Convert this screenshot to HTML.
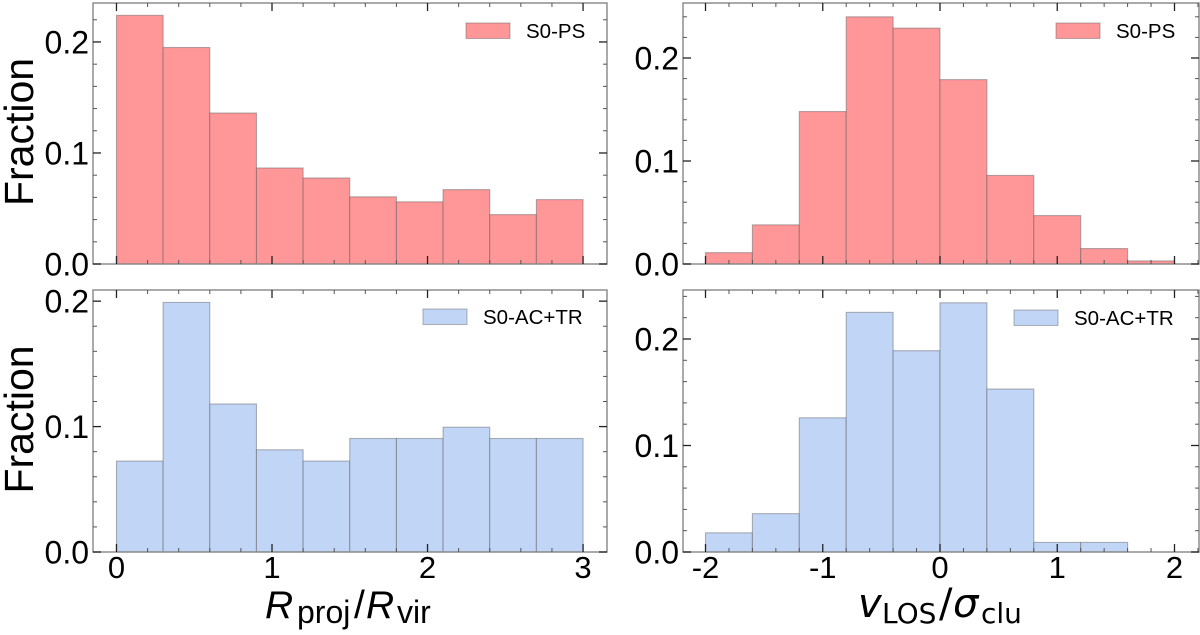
<!DOCTYPE html>
<html>
<head>
<meta charset="utf-8">
<title>Histograms</title>
<style>
html,body{margin:0;padding:0;background:#fff;width:1200px;height:635px;overflow:hidden}
svg{display:block}
text{font-family:"Liberation Sans",sans-serif;fill:#000}
</style>
</head>
<body>
<svg id="figure" width="1200" height="635" viewBox="0 0 1200 635" xmlns="http://www.w3.org/2000/svg">
<text transform="translate(33,132) rotate(-90)" text-anchor="middle" font-size="41">Fraction</text>
<text transform="translate(33,419.5) rotate(-90)" text-anchor="middle" font-size="41">Fraction</text>
<text y="618" font-size="39"><tspan x="265" font-style="italic">R</tspan><tspan x="297" y="623" font-size="32">proj</tspan><tspan x="354" y="618">/</tspan><tspan x="366" font-style="italic">R</tspan><tspan x="397" y="623" font-size="32">vir</tspan></text>
<text y="617" font-size="40" style="font-family:'DejaVu Sans',sans-serif"><tspan x="858" font-style="italic">v</tspan><tspan x="882" y="623" font-size="28">LOS</tspan><tspan x="939" y="617">/</tspan><tspan x="953" font-style="italic">σ</tspan><tspan x="981" y="623" font-size="28">clu</tspan></text>
</svg>
<script>
const radiusBinEdges = [0, 0.3, 0.6, 0.9, 1.2, 1.5, 1.8, 2.1, 2.4, 2.7, 3.0];
const velocityBinEdges = [-2, -1.6, -1.2, -0.8, -0.4, 0, 0.4, 0.8, 1.2, 1.6, 2];
const psRadiusValues = [0.224, 0.195, 0.136, 0.0865, 0.0775, 0.0605, 0.056, 0.067, 0.0445, 0.058];
const acRadiusValues = [0.0725, 0.199, 0.118, 0.0815, 0.0725, 0.0905, 0.0905, 0.0995, 0.0905, 0.0905];
const psVelocityValues = [0.011, 0.038, 0.148, 0.24, 0.229, 0.179, 0.086, 0.047, 0.015, 0.003];
const acVelocityValues = [0.018, 0.036, 0.126, 0.225, 0.189, 0.234, 0.153, 0.009, 0.009, 0];
const radiusTickLabels = ["0", "1", "2", "3"];
const velocityTickLabels = ["-2", "-1", "0", "1", "2"];
const fractionTickLabels = ["0.0", "0.1", "0.2"];

const NS = "http://www.w3.org/2000/svg";
const svg = document.getElementById("figure");

function make(tag, attrs, parent) {
  const el = document.createElementNS(NS, tag);
  for (const k in attrs) el.setAttribute(k, attrs[k]);
  parent.appendChild(el);
  return el;
}

function drawPanel(p) {
  const g = make("g", {}, svg);
  
  
  const sx = v => p.left + (v - p.xMin) / (p.xMax - p.xMin) * (p.right - p.left);
  const sy = v => p.bottom - (v - 0) / p.yMax * (p.bottom - p.top);

  p.values.forEach((v, i) => {
    if (v <= 0) return;
    const x0 = sx(p.edges[i]), x1 = sx(p.edges[i + 1]), y = sy(v);
    const bar = make("rect", {x: x0, y: y, width: x1 - x0, height: sy(0) - y, fill: p.fill, stroke: "rgba(90,90,90,0.45)", "stroke-width": 1.1}, g);
    
    
  });

  const frame = make("rect", {x: p.left, y: p.top, width: p.right - p.left, height: p.bottom - p.top, fill: "none", stroke: "#858585", "stroke-width": 1.4}, g);
  
  

  const tick = (x1, y1, x2, y2, w, c) => {
    const t = make("line", {x1, y1, x2, y2, stroke: c, "stroke-width": w}, g);
    
    
  };

  // x ticks: major every 1, minor every 0.2
  for (let n = Math.ceil(p.xMin * 5); n <= Math.floor(p.xMax * 5); n++) {
    const x = sx(n / 5), major = n % 5 === 0, len = major ? 8 : 4, w = major ? 1.3 : 1, c = major ? "#222" : "#555";
    tick(x, p.bottom, x, p.bottom - len, w, c);
    tick(x, p.top, x, p.top + len, w, c);
  }
  // y ticks: major every 0.1, minor every 0.02
  for (let n = 0; n / 50 <= p.yMax; n++) {
    const y = sy(n / 50), major = n % 5 === 0, len = major ? 8 : 4, w = major ? 1.3 : 1, c = major ? "#222" : "#555";
    tick(p.left, y, p.left + len, y, w, c);
    tick(p.right, y, p.right - len, y, w, c);
  }

  fractionTickLabels.forEach(s => {
    const t = make("text", {x: p.left - 4, y: sy(parseFloat(s)) + 11.5, "text-anchor": "end", "font-size": 32}, g);
    t.textContent = s;
    
    
  });
  if (p.xLabels) {
    p.xLabels.forEach(s => {
      const t = make("text", {x: sx(parseFloat(s)), y: 578, "text-anchor": "middle", "font-size": 31}, g);
      t.textContent = s;
      
      
    });
  }

  const swatch = make("rect", {x: p.legendX, y: p.legendY, width: 44, height: 15.5, fill: p.fill, stroke: "rgba(90,90,90,0.4)", "stroke-width": 1.1}, g);
  
  
  const label = make("text", {x: p.legendX + 60, y: p.legendY + 15, "font-size": 20.5}, g);
  label.textContent = p.legend;
  
  
}

const red = "#ff9799";
const blue = "#c1d5f6";
drawPanel({name: "panel-ps-radius", left: 93, right: 607, top: 3, bottom: 264, xMin: -0.151, xMax: 3.154, yMax: 0.2351, edges: radiusBinEdges, values: psRadiusValues, fill: red, legend: "S0-PS", legendX: 466, legendY: 23});
drawPanel({name: "panel-ps-velocity", left: 683, right: 1199, top: 3, bottom: 264, xMin: -2.192, xMax: 2.209, yMax: 0.2534, edges: velocityBinEdges, values: psVelocityValues, fill: red, legend: "S0-PS", legendX: 1056, legendY: 23});
drawPanel({name: "panel-ac-radius", left: 93, right: 607, top: 290, bottom: 552, xMin: -0.151, xMax: 3.154, yMax: 0.2089, edges: radiusBinEdges, values: acRadiusValues, fill: blue, xLabels: radiusTickLabels, legend: "S0-AC+TR", legendX: 423, legendY: 309});
drawPanel({name: "panel-ac-velocity", left: 683, right: 1199, top: 290, bottom: 552, xMin: -2.192, xMax: 2.209, yMax: 0.246, edges: velocityBinEdges, values: acVelocityValues, fill: blue, xLabels: velocityTickLabels, legend: "S0-AC+TR", legendX: 1014, legendY: 310});
</script>
</body>
</html>
